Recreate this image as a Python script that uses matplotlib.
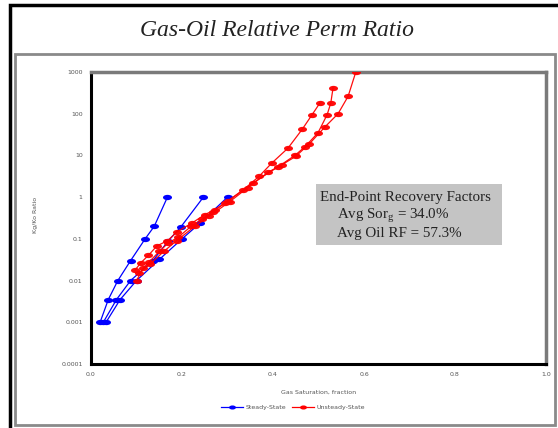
import matplotlib

matplotlib.use("Agg")

from matplotlib import pyplot as plt
from matplotlib.patches import Rectangle
from matplotlib.path import Path
from matplotlib.transforms import Affine2D

# Steady-state runs (gas saturation, krg/kro)
steady_sg = [
    [0.020, 0.038, 0.059, 0.087, 0.119, 0.139, 0.168],
    [0.027, 0.056, 0.087, 0.136, 0.170, 0.197, 0.247],
    [0.033, 0.064, 0.100, 0.150, 0.200, 0.240, 0.300],
]
steady_ratio = [
    [0.001, 0.0035, 0.010, 0.030, 0.10, 0.20, 1.0],
    [0.001, 0.0035, 0.010, 0.030, 0.09, 0.19, 1.0],
    [0.001, 0.0035, 0.010, 0.032, 0.10, 0.24, 1.0],
]

# Unsteady-state runs
unsteady_sg = [
    [0.097, 0.110, 0.126, 0.145, 0.168, 0.190, 0.222, 0.250, 0.272, 0.295,
     0.335, 0.370, 0.397, 0.433, 0.464, 0.486, 0.503],
    [0.100, 0.115, 0.128, 0.150, 0.170, 0.192, 0.220, 0.245, 0.268, 0.300,
     0.356, 0.412, 0.448, 0.470, 0.499, 0.519, 0.527, 0.532],
    [0.105, 0.130, 0.160, 0.188, 0.228, 0.260, 0.305, 0.345, 0.390, 0.420,
     0.450, 0.480, 0.514, 0.543, 0.565, 0.582],
]
unsteady_ratio = [
    [0.018, 0.027, 0.040, 0.068, 0.090, 0.15, 0.24, 0.38, 0.50, 0.72,
     1.5, 3.2, 6.5, 15, 42, 95, 180],
    [0.010, 0.020, 0.028, 0.050, 0.080, 0.11, 0.20, 0.30, 0.45, 0.80,
     2.2, 5.4, 10, 16, 35, 95, 180, 420],
    [0.015, 0.025, 0.050, 0.090, 0.20, 0.35, 0.78, 1.7, 4.0, 6.0,
     9.5, 19, 48, 100, 260, 1000],
]

y_ticks = [0.0001, 0.001, 0.01, 0.1, 1, 10, 100, 1000]
y_labels = ["0.0001", "0.001", "0.01", "0.1", "1", "10", "100", "1000"]
x_ticks = [0.0, 0.2, 0.4, 0.6, 0.8, 1.0]
x_labels = ["0.0", "0.2", "0.4", "0.6", "0.8", "1.0"]

note_lines = [
    "End-Point Recovery Factors",
    "Avg Sor$_\\mathregular{g}$ = 34.0%",
    "Avg Oil RF = 57.3%",
]

# wide flat marker, like the stretched diamonds of the old spreadsheet export
blob = Path.unit_circle().transformed(Affine2D().scale(1.7, 1.0))

W, H = 558, 428
fig = plt.figure(figsize=(W / 100, H / 100), dpi=100)
fig.patch.set_facecolor("white")

# outer black frame and inner grey chart frame
fig.patches.append(Rectangle((10 / W, -0.01), 1.0, 1 - 5 / H + 0.01,
                             transform=fig.transFigure, fill=False,
                             edgecolor="black", linewidth=2.5))
fig.patches.append(Rectangle((15 / W, 1 - 425 / H), 540 / W, 371 / H,
                             transform=fig.transFigure, fill=False,
                             edgecolor="#8a8a8a", linewidth=2))

fig.text(277 / W, 1 - 30 / H, "Gas-Oil Relative Perm Ratio", ha="center",
         va="center", fontsize=17, style="italic", family="Liberation Serif",
         color="#222222")

ax = fig.add_axes([91 / W, 1 - 364 / H, 455 / W, 292 / H])
ax.set_yscale("log")
ax.set_xlim(0, 1)
ax.set_ylim(0.0001, 1000)

for sg, ratio in zip(steady_sg, steady_ratio):
    ax.plot(sg, ratio, color="#0000ff", lw=0.9, marker=blob, markersize=6.5,
            markeredgewidth=0, zorder=3)
for sg, ratio in zip(unsteady_sg, unsteady_ratio):
    ax.plot(sg, ratio, color="#ff0000", lw=0.9, marker=blob, markersize=6.5,
            markeredgewidth=0, zorder=3, alpha=0.95)

ax.set_yticks(y_ticks)
ax.set_yticklabels(y_labels)
ax.set_xticks(x_ticks)
ax.set_xticklabels(x_labels)
ax.minorticks_off()
ax.tick_params(length=0, labelsize=4.5, labelcolor="#555555", pad=6)

for side in ("left", "bottom"):
    ax.spines[side].set_color("black")
    ax.spines[side].set_linewidth(2.2)
for side in ("top", "right"):
    ax.spines[side].set_color("#7a7a7a")
    ax.spines[side].set_linewidth(2.5)

ax.set_xlabel("Gas Saturation, fraction", fontsize=4.5, color="#555555",
              labelpad=9)
fig.text(35 / W, 1 - 215 / H, "Kg/Ko Ratio", rotation=90, ha="center",
         va="center", fontsize=4.5, color="#555555")

# end-point recovery note on a grey panel
fig.patches.append(Rectangle((316 / W, 1 - 245 / H), 186 / W, 61 / H,
                             transform=fig.transFigure, facecolor="#c4c4c4",
                             edgecolor="none", zorder=4))
for (px, py), line in zip([(320, 197), (337, 215.5), (337, 234)], note_lines):
    fig.text(px / W, 1 - py / H, line, ha="left", va="center", fontsize=10.8,
             family="Liberation Serif", color="#222222", zorder=5)

handles = [
    plt.Line2D([], [], color="#0000ff", lw=0.9, marker=blob, markersize=5,
               markeredgewidth=0),
    plt.Line2D([], [], color="#ff0000", lw=0.9, marker=blob, markersize=5,
               markeredgewidth=0),
]
fig.legend(handles, ["Steady-State", "Unsteady-State"], loc="center",
           bbox_to_anchor=(293 / W, 1 - 407 / H), ncol=2, frameon=False,
           fontsize=4.5, labelcolor="#555555", handlelength=3.5,
           columnspacing=1.0, handletextpad=0.4)

fig.savefig("out.png", dpi=100)
